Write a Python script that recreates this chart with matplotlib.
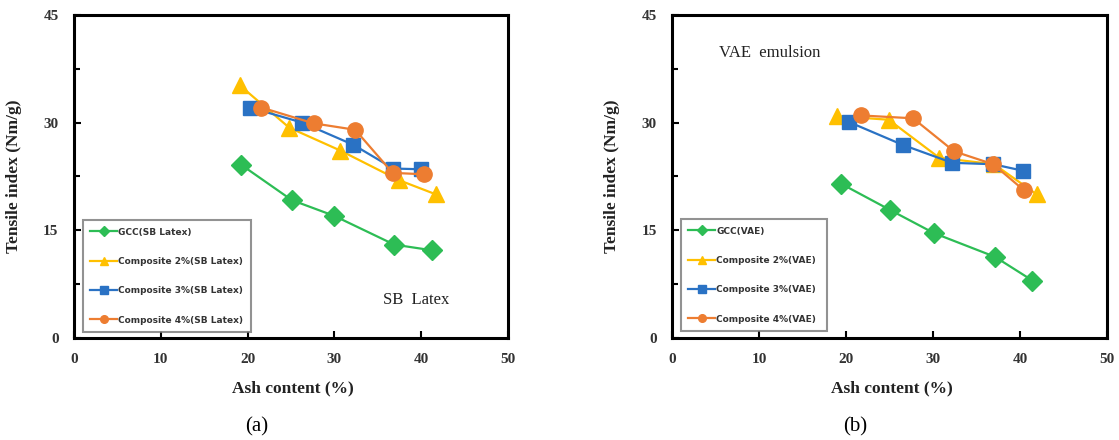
import matplotlib
matplotlib.use("Agg")
import matplotlib.pyplot as plt
from matplotlib.ticker import MultipleLocator

# Ash content (%) and tensile index (Nm/g) for each filler / binder system
sb_gcc_x = [19.3, 25.1, 30.0, 36.9, 41.3]
sb_gcc_y = [24.1, 19.2, 17.0, 13.0, 12.2]
sb_c2_x = [19.1, 24.8, 30.7, 37.4, 41.7]
sb_c2_y = [35.2, 29.3, 26.1, 22.0, 20.0]
sb_c3_x = [20.3, 26.3, 32.2, 36.8, 40.0]
sb_c3_y = [32.1, 30.0, 26.9, 23.6, 23.5]
sb_c4_x = [21.6, 27.6, 32.4, 36.7, 40.3]
sb_c4_y = [32.1, 29.9, 29.0, 23.0, 22.8]

vae_gcc_x = [19.4, 25.1, 30.1, 37.1, 41.4]
vae_gcc_y = [21.5, 17.8, 14.6, 11.3, 8.0]
vae_c2_x = [19.0, 24.9, 30.7, 37.0, 41.9]
vae_c2_y = [30.9, 30.4, 25.1, 24.2, 20.0]
vae_c3_x = [20.3, 26.5, 32.2, 36.9, 40.3]
vae_c3_y = [30.1, 26.9, 24.4, 24.2, 23.3]
vae_c4_x = [21.7, 27.7, 32.4, 36.9, 40.4]
vae_c4_y = [31.0, 30.6, 26.0, 24.2, 20.6]

sb_labels = ["GCC(SB Latex)", "Composite 2%(SB Latex)",
             "Composite 3%(SB Latex)", "Composite 4%(SB Latex)"]
vae_labels = ["GCC(VAE)", "Composite 2%(VAE)",
              "Composite 3%(VAE)", "Composite 4%(VAE)"]

colors = ["#2dbd55", "#ffc000", "#2a72c4", "#ed7d31"]
markers = ["D", "^", "s", "o"]
msizes = [10, 12, 10.5, 11]

serif = ["Liberation Serif", "DejaVu Serif"]

fig = plt.figure(figsize=(11.19, 4.40), dpi=100)
ax1 = fig.add_axes([0.066, 0.232, 0.388, 0.734])
ax2 = fig.add_axes([0.6005, 0.232, 0.389, 0.734])


def draw_panel(ax, xs, ys, labels, tag, note, note_xy, leg_box):
    for x, y, lab, c, m, ms in zip(xs, ys, labels, colors, markers, msizes):
        ax.plot(x, y, color=c, marker=m, markersize=ms, linewidth=1.6,
                label=lab, markeredgecolor=c)
    ax.set_xlim(0, 50)
    ax.set_ylim(0, 45)
    ax.xaxis.set_major_locator(MultipleLocator(10))
    ax.yaxis.set_major_locator(MultipleLocator(15))
    ax.yaxis.set_minor_locator(MultipleLocator(7.5))
    ax.tick_params(axis="both", which="both", direction="in",
                   top=False, right=False, width=1.5)
    ax.tick_params(axis="x", which="major", length=5, pad=11)
    ax.tick_params(axis="y", which="major", length=5, pad=11)
    ax.tick_params(axis="y", which="minor", length=4)
    for lbl in ax.get_xticklabels() + ax.get_yticklabels():
        lbl.set_fontfamily(serif)
        lbl.set_fontweight("bold")
        lbl.set_fontsize(11)
        lbl.set_color("#333333")
    for sp in ax.spines.values():
        sp.set_linewidth(2.2)
    ax.set_xlabel("Ash content (%)", fontfamily=serif, fontweight="bold",
                  fontsize=12.5, color="#222222")
    ax.xaxis.set_label_coords(0.505, -0.13)
    ax.set_ylabel("Tensile index (Nm/g)", fontfamily=serif, fontweight="bold",
                  fontsize=12.5, color="#222222")
    ax.yaxis.set_label_coords(-0.12, 0.5)
    ax.text(note_xy[0], note_xy[1], note, transform=ax.transAxes,
            fontfamily=serif, fontsize=12, color="#222222",
            ha="left", va="center")
    ax.text(0.42, -0.276, tag, transform=ax.transAxes, fontfamily=serif,
            fontsize=15, ha="center", va="center")
    leg = ax.legend(loc="lower left", bbox_to_anchor=leg_box, mode="expand",
                    markerscale=0.5, handlelength=3.0, handletextpad=0.1,
                    labelspacing=2.25, borderpad=0.8, borderaxespad=0,
                    fancybox=False,
                    prop={"family": "DejaVu Sans", "weight": "bold",
                          "size": 6.5})
    leg.get_frame().set_edgecolor("#777777")
    leg.get_frame().set_linewidth(1.5)
    for t in leg.get_texts():
        t.set_color("#333333")


draw_panel(ax1,
           [sb_gcc_x, sb_c2_x, sb_c3_x, sb_c4_x],
           [sb_gcc_y, sb_c2_y, sb_c3_y, sb_c4_y],
           sb_labels, "(a)", "SB  Latex", (0.713, 0.118),
           (0.021, 0.019, 0.387, 0.356))
draw_panel(ax2,
           [vae_gcc_x, vae_c2_x, vae_c3_x, vae_c4_x],
           [vae_gcc_y, vae_c2_y, vae_c3_y, vae_c4_y],
           vae_labels, "(b)", "VAE  emulsion", (0.108, 0.883),
           (0.021, 0.022, 0.335, 0.356))

fig.savefig("out.png", dpi=100)
